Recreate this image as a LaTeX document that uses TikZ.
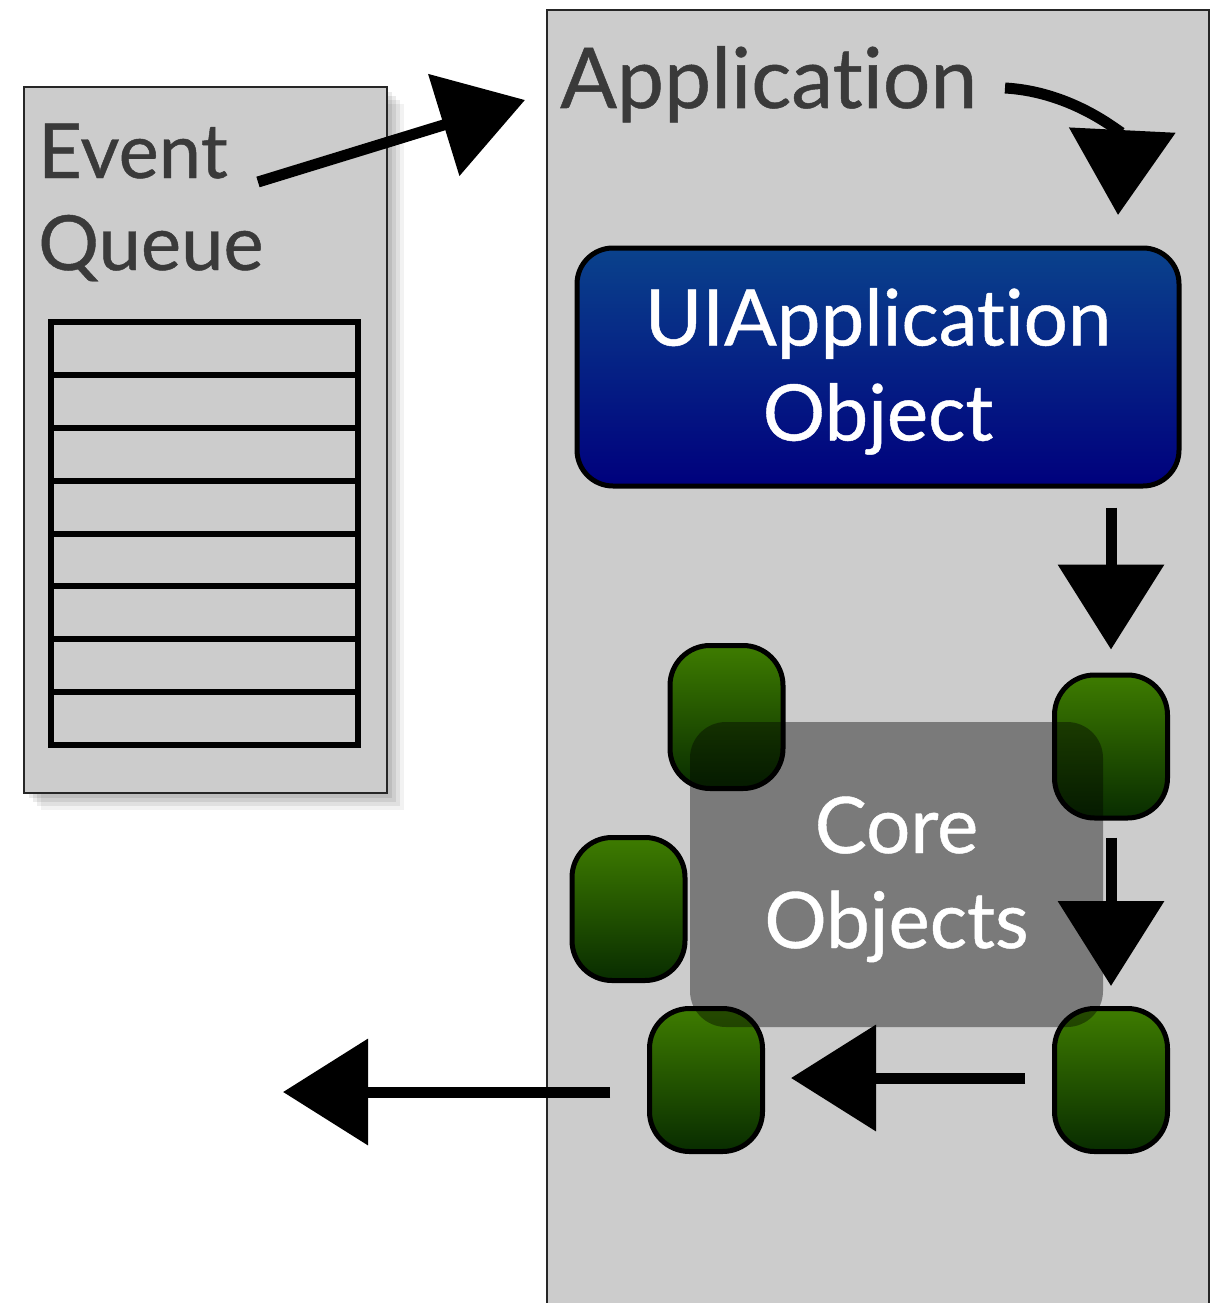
\documentclass[tikz,border=0pt]{standalone}
\usepackage{fontspec}
\setmainfont{Lato}[Ligatures={NoCommon,NoContextual,NoRare}, FakeBold=0.6]
\usetikzlibrary{arrows.meta,shadows,calc}
\definecolor{boxgray}{RGB}{204,204,204}
\definecolor{textgray}{RGB}{58,58,58}
\definecolor{gtop}{RGB}{62,124,0}
\definecolor{gbot}{RGB}{8,44,0}
\definecolor{btop}{RGB}{10,66,140}
\definecolor{bbot}{RGB}{0,0,125}
\newcommand{\twolines}[2]{\raisebox{-7pt}[\height][\depth]{\begin{tabular}{@{}c@{}}#1\\#2\end{tabular}}}
\tikzset{
  panel/.style={draw=black!85, line width=2pt, fill=boxgray, inner sep=0pt},
  softshadow/.style={
    general shadow={fill=black, opacity=0.08, shadow xshift=5pt, shadow yshift=-5pt},
    general shadow={fill=black, opacity=0.08, shadow xshift=9pt, shadow yshift=-9pt},
    general shadow={fill=black, opacity=0.07, shadow xshift=13pt, shadow yshift=-13pt},
    general shadow={fill=black, opacity=0.05, shadow xshift=17pt, shadow yshift=-17pt}},
  slot/.style={draw=black, line width=6pt, minimum width=307pt, minimum height=52.9pt, inner sep=0pt},
  title/.style={text=textgray, font=\fontsize{84}{96}\selectfont, inner sep=0pt},
  greenobj/.style={draw=black, line width=5pt, rounded corners=40pt, top color=gtop, bottom color=gbot,
    minimum width=113pt, minimum height=143pt, inner sep=0pt},
  uibox/.style={draw=black, line width=5pt, rounded corners=36pt, top color=btop, bottom color=bbot,
    minimum width=602pt, minimum height=238pt, text=white, inner sep=0pt,
    font=\fontsize{78}{95}\selectfont},
  corebox/.style={fill=black, fill opacity=0.4, text opacity=1, rounded corners=36pt,
    minimum width=413pt, minimum height=305pt, text=white, inner sep=0pt,
    font=\fontsize{78}{95}\selectfont},
  chalk/.style={draw=black, line width=11pt, -{Triangle[length=85pt,width=104pt]}}
}
\begin{document}
\begin{tikzpicture}[x=1pt,y=-1pt]
\useasboundingbox (0,0) rectangle (1214,1303);
\fill[white] (0,0) rectangle (1214,1303);
% event queue panel
\node[panel, softshadow, minimum width=363pt, minimum height=706pt] (eq) at (205.5,440) {};
\node[title, anchor=base west, font=\fontsize{76}{92}\selectfont] (ev) at (38,178) {Event};
\node[title, anchor=base west, font=\fontsize{76}{92}\selectfont] (qu) at (38,270) {Queue};
\foreach \i in {0,...,7} \node[slot] (s\i) at (204,{348.4+52.9*\i}) {};
% application panel
\node[panel, minimum width=662pt, minimum height=1320pt] (app) at (878,670) {};
\node[title, anchor=base west] (apt) at (560,108) {Applicat\kern0pt ion};
% UIApplication object
\node[uibox] (ui) at (878,367) {\twolines{UIApplicat\kern0pt ion}{Object}};
% green objects
\node[greenobj] (g1) at (726.5,717) {};
\node[greenobj] (g2) at (1111,746.5) {};
\node[greenobj] (g3) at (628.5,909) {};
\node[greenobj] (g4) at (706,1080) {};
\node[greenobj] (g5) at (1111,1080) {};
% core overlay
\node[corebox] (core) at (896.5,874.5) {\twolines{Core}{Objects}};
% arrows
\coordinate (a1) at (258,182);
\coordinate (a2) at (525,100);
\draw[chalk] (a1) -- (a2);
\coordinate (b1) at (1005,88);
\coordinate (b2) at (1118,215);
\draw[chalk] (b1) .. controls (1075,92) and (1122,135) .. (b2);
\draw[chalk, shorten <=19pt, shorten >=23pt] (ui.south -| g2.north) -- (g2.north);
\draw[chalk, shorten <=17pt, shorten >=20pt] (g2.south) -- (g5.north);
\draw[chalk, shorten <=27pt, shorten >=26pt] ([yshift=2pt]g5.west) -- ([yshift=2pt]g4.east);
\coordinate (f2) at (283,1092);
\draw[chalk, shorten <=37pt] ([yshift=-12pt]g4.west) -- (f2);
\end{tikzpicture}
\end{document}
